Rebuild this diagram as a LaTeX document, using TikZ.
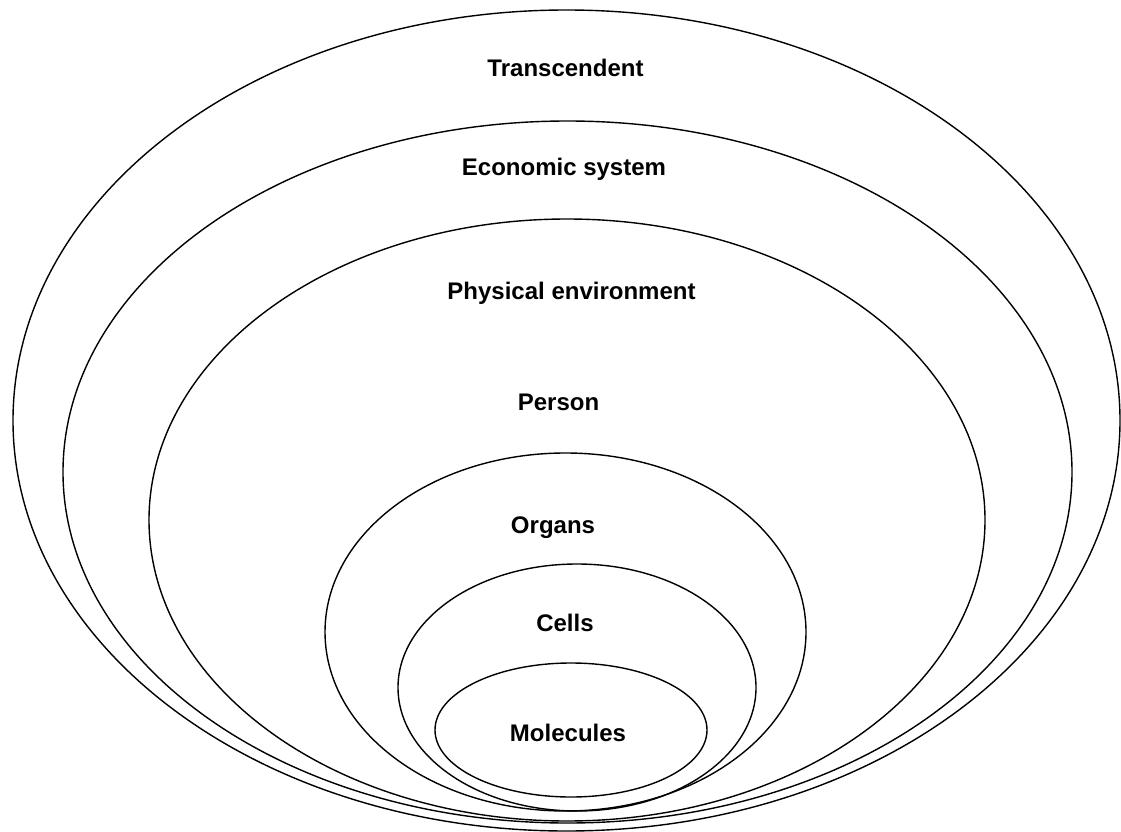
\documentclass[tikz,border=0pt]{standalone}
\usepackage{fontspec}
\setmainfont{Liberation Sans}
\usetikzlibrary{shapes.geometric}
\tikzset{
  ring/.style={draw=black, line width=1.4pt, ellipse, inner sep=0pt, outer sep=0pt},
  lab/.style={font=\fontsize{24}{28}\selectfont\bfseries, anchor=base, inner sep=0pt}
}
\begin{document}
\begin{tikzpicture}[x=1pt,y=-1pt]
\useasboundingbox (0,0) rectangle (1121,832);
% nested ellipses
\node[ring, minimum width=1107pt, minimum height=821pt] (eTrans) at (566.5,420.5) {};
\node[ring, minimum width=1009pt, minimum height=702pt] (eEcon) at (567.5,472) {};
\node[ring, minimum width=836pt, minimum height=602pt] (ePhys) at (567,520) {};
\node[ring, minimum width=481pt, minimum height=358pt] (eOrg) at (565.5,632) {};
\node[ring, minimum width=358pt, minimum height=247pt] (eCell) at (577,687.5) {};
\node[ring, minimum width=272pt, minimum height=134pt] (eMol) at (571,730) {};
% labels
\node[lab] (tTrans) at (565.5,77) {Transcendent};
\node[lab] (tEcon) at (564,175) {Economic system};
\node[lab] (tPhys) at (571.5,299) {Physical environment};
\node[lab] (tPers) at (558.5,410) {Person};
\node[lab] (tOrg) at (553,533) {Organs};
\node[lab] (tCell) at (565,631) {Cells};
\node[lab] (tMol) at (568,741) {Molecules};
\end{tikzpicture}
\end{document}
